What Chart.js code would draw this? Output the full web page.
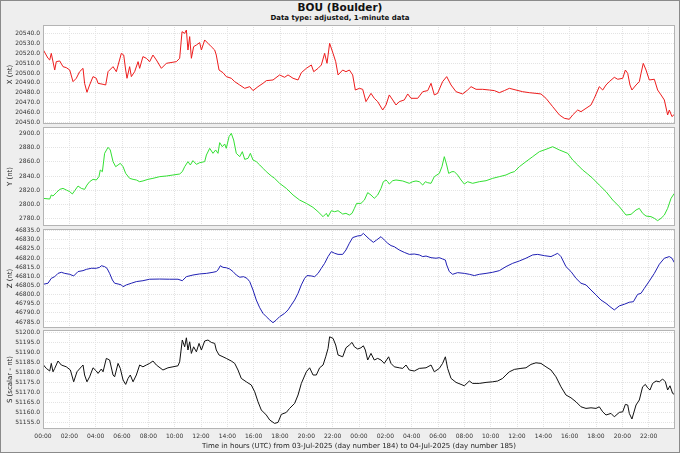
<!DOCTYPE html>
<html>
<head>
<meta charset="utf-8">
<script src="https://cdn.jsdelivr.net/npm/chart.js@4.4.1/dist/chart.umd.min.js"></script>
<style>
  html, body { margin: 0; padding: 0; background: #fff; }
  #wrap { position: relative; width: 680px; height: 453px; background: #eeeeee; overflow: hidden; font-family: 'DejaVu Sans', sans-serif; }
  #wrap canvas { position: absolute; left: 0; }
  #edge { position: absolute; left: 0; top: 0; width: 680px; height: 453px; box-sizing: border-box; border: 1px solid #8a8a8a; pointer-events: none; }
  .ttl { position: absolute; left: 0; width: 680px; text-align: center; font-weight: bold; color: #111; white-space: nowrap; }
</style>
</head>
<body>
<div id="wrap">
  <div class="ttl" style="top:0px;font-size:10.5px;line-height:14px;">BOU (Boulder)</div>
  <div class="ttl" style="top:13px;font-size:7px;line-height:10px;">Data type: adjusted, 1-minute data</div>
  <canvas id="cX" width="680" height="103" style="top:21px"></canvas>
  <canvas id="cY" width="680" height="103" style="top:123px"></canvas>
  <canvas id="cZ" width="680" height="103" style="top:225px"></canvas>
  <canvas id="cS" width="680" height="124" style="top:326px"></canvas>
  <div id="edge"></div>
</div>
<script>
// hours since 03-Jul-2025 00:00 UTC, values in nT
const xHours = [0.00,0.38,0.51,0.63,0.89,1.01,1.27,1.52,1.77,2.03,2.28,2.53,2.78,3.04,3.16,3.34,3.54,3.80,4.05,4.18,
  4.56,4.76,4.94,5.32,5.57,5.95,6.13,6.28,6.38,6.58,6.71,6.96,7.22,7.34,7.59,7.85,8.10,8.35,8.61,8.99,
  9.37,10.13,10.38,10.56,10.76,10.89,11.01,11.14,11.27,11.44,11.65,11.90,12.03,12.28,12.53,12.78,13.04,13.16,13.37,13.67,
  13.92,14.30,14.56,14.94,15.32,15.70,15.95,16.33,16.71,16.96,17.47,17.97,18.35,18.61,18.99,19.37,19.62,20.00,20.38,20.56,
  20.89,21.14,21.39,21.57,21.77,22.03,22.23,22.41,
  22.76,23.01,23.27,23.52,23.72,24.03,24.28,24.53,24.91,25.16,25.42,25.80,26.05,26.30,26.56,26.81,27.06,27.44,27.70,27.95,
  28.46,28.84,29.22,29.47,29.72,29.97,30.35,30.66,30.99,31.37,31.87,32.25,32.51,32.89,33.39,33.90,34.28,34.66,35.04,35.42,
  35.92,36.43,36.94,37.44,37.82,38.20,38.71,39.22,39.59,39.97,40.23,40.61,40.86,41.24,41.62,41.87,42.25,42.51,42.76,43.01,
  43.39,43.65,44.03,44.23,44.41,44.58,44.73,45.04,45.29,45.42,45.59,45.80,46.05,46.43,46.68,46.94,47.19,47.44,47.57,47.77,47.95];
const xNt = [20524.1,20515.0,20513.3,20520.0,20503.1,20511.6,20512.3,20506.5,20505.5,20503.1,20491.3,20494.7,20501.4,20504.8,20489.6,20480.5,20487.9,20496.4,20494.7,20489.6,
  20488.6,20487.9,20501.4,20506.5,20501.4,20520.0,20518.3,20503.1,20494.7,20506.5,20496.4,20501.4,20511.6,20504.8,20516.7,20515.0,20511.6,20518.3,20513.3,20504.8,
  20509.9,20511.6,20515.0,20542.0,20540.3,20543.7,20523.4,20537.0,20515.0,20526.8,20528.5,20530.9,20523.4,20533.6,20530.2,20526.8,20523.4,20518.3,20503.1,20500.4,
  20496.4,20494.7,20491.3,20487.9,20484.5,20486.2,20482.2,20486.2,20489.6,20492.3,20493.0,20498.1,20495.7,20498.1,20494.7,20493.0,20500.4,20504.8,20508.2,20501.4,
  20504.8,20508.2,20520.0,20509.9,20530.2,20520.0,20511.6,20498.1,
  20503.1,20501.4,20503.1,20498.1,20482.8,20484.5,20483.5,20471.0,20479.4,20474.4,20471.0,20462.5,20467.6,20477.8,20472.7,20467.6,20471.0,20472.7,20478.8,20474.4,
  20474.4,20481.1,20482.2,20489.6,20477.8,20479.4,20491.3,20496.4,20487.9,20481.1,20478.8,20482.8,20486.2,20483.5,20483.5,20482.8,20482.2,20480.1,20482.2,20484.5,
  20482.8,20481.1,20480.1,20479.4,20478.8,20474.4,20465.9,20457.5,20454.1,20453.1,20457.5,20462.5,20460.8,20464.2,20467.6,20474.4,20486.2,20482.8,20487.9,20491.3,
  20495.7,20493.7,20494.7,20503.1,20499.7,20487.9,20482.8,20487.9,20491.3,20499.7,20509.9,20503.1,20493.0,20493.7,20482.8,20477.8,20472.7,20457.5,20462.5,20455.8,20458.1];

const yHours = [0.00,0.51,0.63,0.76,1.01,1.27,1.52,1.77,2.03,2.23,2.41,2.66,2.91,3.16,3.34,3.54,3.80,4.05,4.25,4.35,
  4.51,4.68,4.94,5.11,5.32,5.52,5.70,5.87,6.08,6.28,6.58,6.84,7.09,7.34,7.59,7.97,8.35,8.86,9.37,9.87,
  10.38,10.58,10.76,11.01,11.19,11.39,11.65,11.90,12.28,12.41,12.66,12.91,13.11,13.29,13.42,13.62,13.80,13.92,14.13,14.30,
  14.48,14.68,14.94,15.14,15.32,15.57,15.75,15.95,16.20,16.46,16.71,16.96,17.34,17.59,17.97,18.48,18.99,19.49,20.00,20.51,
  20.89,21.27,21.52,21.65,21.90,22.15,22.41,
  22.76,23.01,23.27,23.47,23.65,23.82,24.15,24.41,24.66,24.91,25.16,25.42,25.67,25.85,26.05,26.18,26.30,26.56,26.81,27.32,
  27.82,28.08,28.33,28.58,28.84,29.04,29.22,29.47,29.72,30.10,30.30,30.48,30.66,30.81,31.06,31.24,31.49,31.75,32.00,32.25,
  32.63,33.14,33.65,34.15,34.66,35.16,35.54,35.80,36.18,36.68,37.19,37.70,38.20,38.71,39.22,39.85,40.23,40.61,40.99,41.37,
  41.75,42.25,42.76,43.27,43.77,44.28,44.66,45.04,45.29,45.54,45.80,46.18,46.43,46.68,46.94,47.19,47.44,47.70,47.95];
const yNt = [2808.6,2807.6,2813.3,2811.9,2816.6,2821.2,2822.6,2820.3,2818.0,2814.7,2819.4,2825.9,2822.6,2821.2,2827.3,2832.0,2835.3,2834.4,2839.1,2848.4,
  2846.1,2871.9,2880.3,2876.6,2860.2,2853.1,2855.5,2857.8,2853.1,2843.7,2836.7,2835.3,2834.4,2832.0,2833.0,2835.3,2836.7,2839.1,2840.0,2841.4,
  2842.8,2846.1,2853.1,2860.2,2855.5,2861.6,2856.4,2858.7,2860.2,2869.5,2878.9,2871.9,2876.6,2871.9,2886.9,2881.2,2885.0,2878.9,2895.3,2900.0,
  2890.6,2871.9,2867.2,2874.2,2863.4,2864.8,2871.9,2862.5,2860.2,2855.5,2850.8,2846.1,2840.0,2836.7,2829.7,2822.6,2813.3,2806.2,2801.5,2795.9,
  2789.8,2782.8,2787.5,2782.8,2791.2,2789.8,2791.2,
  2786.5,2787.5,2785.1,2787.5,2794.5,2801.5,2801.5,2806.2,2816.6,2813.3,2808.6,2813.3,2822.6,2832.0,2834.4,2832.0,2828.7,2833.4,2834.4,2833.0,
  2829.7,2832.0,2833.0,2832.0,2827.3,2832.0,2830.6,2829.7,2839.1,2843.7,2853.1,2867.2,2855.5,2843.7,2846.1,2846.1,2841.4,2834.4,2828.7,2832.0,
  2829.7,2832.0,2833.4,2836.7,2839.1,2841.4,2844.7,2846.1,2853.1,2860.2,2867.2,2874.2,2877.5,2881.2,2876.6,2871.9,2862.5,2855.5,2848.4,2842.8,
  2836.7,2827.3,2818.0,2806.2,2796.9,2785.1,2786.1,2792.2,2794.5,2787.5,2783.7,2782.8,2780.5,2777.2,2780.5,2785.1,2794.5,2808.6,2815.6];

const zHours = [0.00,0.38,0.63,0.89,1.14,1.39,1.65,2.03,2.33,2.66,3.04,3.29,3.67,4.05,4.30,4.43,4.68,4.86,5.06,5.27,
  5.44,5.70,5.95,6.08,6.33,6.71,7.09,7.59,8.10,8.86,9.62,10.25,10.58,10.89,11.39,11.90,12.41,12.91,13.16,13.29,
  13.47,13.67,13.92,14.18,14.43,14.68,14.94,15.24,15.49,15.70,15.95,16.20,16.46,16.71,16.96,17.22,17.47,17.72,17.97,18.35,
  18.61,18.86,19.11,19.37,19.62,19.87,20.05,20.38,20.63,20.89,21.14,21.39,21.65,21.90,22.15,22.41,
  22.76,23.01,23.27,23.52,23.90,24.15,24.33,24.53,24.78,25.09,25.34,25.67,25.92,26.18,26.43,26.68,27.06,27.44,27.82,28.20,
  28.58,28.84,29.09,29.47,29.85,30.10,30.35,30.56,30.66,30.86,31.11,31.49,32.00,32.38,32.76,33.14,33.65,34.15,34.66,35.16,
  35.67,36.18,36.68,37.19,37.57,38.08,38.58,38.84,39.09,39.34,39.72,40.10,40.48,40.86,41.24,41.62,42.00,42.38,42.76,43.06,
  43.39,43.77,44.15,44.53,44.84,45.16,45.42,45.67,46.05,46.43,46.81,47.19,47.57,47.77,47.95];
const zNt = [46805.6,46806.2,46808.9,46809.8,46811.6,46812.2,46811.6,46811.1,46810.2,46812.6,46813.1,46813.8,46814.4,46814.4,46814.9,46815.8,46815.3,46814.4,46811.6,46808.0,
  46806.2,46805.8,46805.3,46804.3,46805.3,46806.2,46807.1,46807.6,46808.4,46808.5,46808.4,46808.4,46807.6,46809.8,46810.7,46811.3,46811.6,46812.2,46812.6,46813.5,
  46815.8,46814.9,46814.7,46814.0,46812.6,46810.7,46809.5,46809.8,46808.9,46807.1,46802.5,46797.0,46792.8,46789.7,46787.9,46786.1,46784.6,46786.1,46787.9,46789.7,
  46791.6,46794.3,46797.0,46800.7,46805.3,46808.9,46810.4,46810.2,46809.8,46811.6,46814.4,46817.1,46820.8,46823.5,46822.6,46822.0,
  46822.0,46824.4,46828.1,46831.2,46832.1,46832.3,46833.5,46832.1,46830.4,46828.6,46829.9,46831.7,46829.9,46828.1,46826.8,46826.2,46824.4,46823.1,46822.0,46822.2,
  46821.7,46820.8,46821.1,46820.2,46819.9,46820.2,46819.5,46818.9,46816.2,46812.6,46811.1,46812.0,46811.6,46811.1,46810.4,46811.1,46811.6,46812.2,46813.1,46815.3,
  46817.1,46818.4,46819.9,46821.7,46822.0,46821.3,46820.8,46821.7,46822.6,46820.8,46815.3,46812.6,46808.9,46806.2,46805.3,46802.5,46799.8,46797.0,46795.2,46793.4,
  46791.6,46793.8,46794.7,46795.8,46796.1,46800.1,46800.7,46803.4,46807.4,46811.6,46816.6,46819.9,46820.8,46819.9,46817.5];

const sHours = [0.00,0.25,0.51,0.63,0.76,0.89,1.14,1.39,1.77,2.08,2.33,2.58,2.91,3.04,3.16,3.34,3.54,3.80,4.05,4.18,
  4.43,4.56,4.81,5.06,5.32,5.44,5.70,5.87,6.08,6.28,6.46,6.63,6.84,7.09,7.34,7.59,7.85,8.10,8.35,8.61,
  9.11,9.49,9.87,10.25,10.38,10.58,10.76,10.89,11.01,11.14,11.27,11.44,11.65,11.85,12.03,12.28,12.53,12.78,13.04,13.16,
  13.37,13.67,13.92,14.30,14.56,14.81,15.06,15.44,15.82,16.08,16.33,16.58,16.96,17.22,17.59,17.85,18.10,18.48,18.73,19.11,
  19.37,19.62,20.00,20.25,20.51,20.76,21.01,21.27,21.47,21.65,21.77,22.03,22.23,22.41,
  22.76,23.01,23.27,23.47,23.65,23.90,24.15,24.33,24.48,24.66,24.91,25.16,25.42,25.67,25.92,26.25,26.43,26.68,27.06,27.32,
  27.57,27.82,28.20,28.58,29.09,29.47,29.72,30.10,30.35,30.56,30.73,30.99,31.37,31.75,32.00,32.38,32.63,33.14,33.65,34.15,
  34.53,34.91,35.16,35.42,35.80,36.30,36.68,37.06,37.44,37.82,38.20,38.58,38.96,39.34,39.72,40.10,40.48,40.86,41.24,41.62,
  42.00,42.25,42.51,42.76,43.14,43.39,43.77,44.03,44.23,44.41,44.53,44.73,45.04,45.29,45.54,45.75,45.92,46.10,46.30,46.56,
  46.81,47.06,47.27,47.44,47.62,47.82,47.95];
const sNt = [51184.0,51182.0,51180.7,51184.5,51180.3,51182.0,51185.7,51183.7,51182.8,51181.2,51175.3,51180.3,51182.8,51183.7,51178.7,51175.3,51177.8,51182.3,51180.7,51179.5,
  51181.7,51180.3,51187.0,51186.2,51178.7,51177.8,51184.5,51182.0,51176.2,51174.0,51177.0,51178.7,51175.3,51178.7,51183.7,51182.8,51183.7,51184.5,51185.7,51183.7,
  51181.2,51182.3,51182.8,51183.3,51185.3,51196.2,51192.8,51197.3,51191.2,51195.3,51189.5,51192.8,51190.3,51194.5,51191.2,51195.7,51196.2,51195.0,51194.5,51191.2,
  51188.7,51187.8,51187.0,51185.7,51184.5,51181.2,51177.0,51175.3,51173.7,51170.3,51165.3,51161.2,51158.7,51156.2,51154.5,51155.0,51159.0,51160.0,51162.0,51164.5,
  51168.7,51174.5,51180.3,51182.3,51178.7,51178.7,51182.3,51183.7,51187.8,51192.0,51197.8,51197.0,51193.7,51188.7,
  51187.8,51192.3,51193.7,51195.0,51192.8,51191.7,51192.3,51193.3,51191.2,51186.2,51189.5,51186.2,51187.0,51186.2,51184.5,51187.8,51184.5,51182.8,51182.3,51182.0,
  51183.7,51181.2,51180.7,51182.0,51182.3,51183.7,51180.3,51182.0,51184.5,51187.8,51182.0,51177.0,51175.0,51174.0,51173.3,51175.7,51174.5,51174.5,51175.0,51175.3,
  51175.7,51177.0,51178.7,51180.3,51181.5,51182.0,51182.3,51184.0,51184.8,51184.5,51182.8,51181.2,51177.8,51172.8,51168.7,51167.3,51165.3,51162.8,51162.0,51162.3,
  51162.0,51162.8,51160.3,51158.7,51159.5,51157.8,51160.0,51160.3,51164.0,51163.7,51159.5,51156.7,51163.7,51166.2,51172.8,51174.0,51172.3,51171.2,51174.5,51175.7,
  51175.3,51176.7,51175.3,51171.2,51173.3,51169.5,51169.0];

// tick values / labels
const xTicks = [20450,20460,20470,20480,20490,20500,20510,20520,20530,20540];
const yTicks = [2780,2800,2820,2840,2860,2880,2900];
const zTicks = [46785,46790,46795,46800,46805,46810,46815,46820,46825,46830,46835];
const sTicks = [51155,51160,51165,51170,51175,51180,51185,51190,51195,51200];
const hourTicks = [0,2,4,6,8,10,12,14,16,18,20,22,24,26,28,30,32,34,36,38,40,42,44,46];
const hourLabels = ['00:00','02:00','04:00','06:00','08:00','10:00','12:00','14:00','16:00','18:00','20:00','22:00',
  '00:00','02:00','04:00','06:00','08:00','10:00','12:00','14:00','16:00','18:00','20:00','22:00'];

const X_TITLE = 'Time in hours (UTC) from 03-Jul-2025 (day number 184) to 04-Jul-2025 (day number 185)';
const GRID = '#e3e3e3';
const FONT = "'DejaVu Sans', sans-serif";

// white plot background + grey frame
const framePlugin = {
  id: 'frame',
  beforeDraw(chart) {
    const { ctx, chartArea: a } = chart;
    ctx.save();
    ctx.fillStyle = '#ffffff';
    ctx.fillRect(a.left, a.top, a.right - a.left, a.bottom - a.top);
    ctx.restore();
  },
  afterDraw(chart) {
    const { ctx, chartArea: a } = chart;
    ctx.save();
    ctx.strokeStyle = '#b4b4b4';
    ctx.lineWidth = 1;
    ctx.strokeRect(a.left + 0.5, a.top + 0.5, a.right - a.left - 1, a.bottom - a.top - 1);
    ctx.restore();
  },
};

Chart.defaults.font.family = FONT;
Chart.defaults.color = '#333';

function panel(id, hours, vals, color, ticks, min, max, title, bottom) {
  new Chart(document.getElementById(id), {
    type: 'line',
    data: {
      datasets: [{
        data: hours.map((h, i) => ({ x: h, y: vals[i] })),
        borderColor: color,
        borderWidth: 1,
        pointRadius: 0,
        tension: 0,
        fill: false,
      }],
    },
    options: {
      responsive: false,
      animation: false,
      devicePixelRatio: 1,
      // 4px top padding leaves room for the top tick label
      layout: { padding: { left: 0, right: 5, top: 4, bottom: 0 } },
      plugins: { legend: { display: false }, tooltip: { enabled: false } },
      scales: {
        x: {
          type: 'linear', min: 0, max: 48,
          afterBuildTicks: s => { s.ticks = hourTicks.map(v => ({ value: v })); },
          ticks: { display: bottom, autoSkip: false, maxRotation: 0, padding: 4, font: { size: 6 }, color: '#333',
            callback: (v, i) => hourLabels[i] },
          grid: { color: GRID, lineWidth: 1, drawTicks: false },
          border: { display: false, dash: [1, 1] },
          title: { display: bottom, text: X_TITLE, font: { size: 7 }, color: '#222', padding: { top: 0, bottom: 0 } },
          afterFit: s => { s.height = bottom ? 21 : 0; s.paddingLeft = 0; s.paddingRight = 0; },
        },
        y: {
          min: min, max: max,
          afterBuildTicks: s => { s.ticks = ticks.map(v => ({ value: v })); },
          ticks: { autoSkip: false, padding: 3, font: { size: 6 }, color: '#333', callback: v => v.toFixed(1) },
          grid: { color: GRID, lineWidth: 1, drawTicks: false },
          border: { display: false, dash: [1, 1] },
          title: { display: true, text: title, font: { size: 7 }, color: '#222', padding: { top: 6, bottom: 0 } },
          afterFit: s => { s.width = 43; s.paddingTop = 0; s.paddingBottom = 0; },
        },
      },
    },
    plugins: [framePlugin],
  });
}

panel('cX', xHours, xNt, '#ee1c1c', xTicks, 20448.3, 20548.8, 'X (nt)', false);
panel('cY', yHours, yNt, '#33e033', yTicks, 2769.7, 2908.9, 'Y (nt)', false);
panel('cZ', zHours, zNt, '#2020b4', zTicks, 46781.7, 46835.9, 'Z (nt)', false);
panel('cS', sHours, sNt, '#111111', sTicks, 51151.7, 51201.2, 'S (scalar - nt)', true);
</script>
</body>
</html>
